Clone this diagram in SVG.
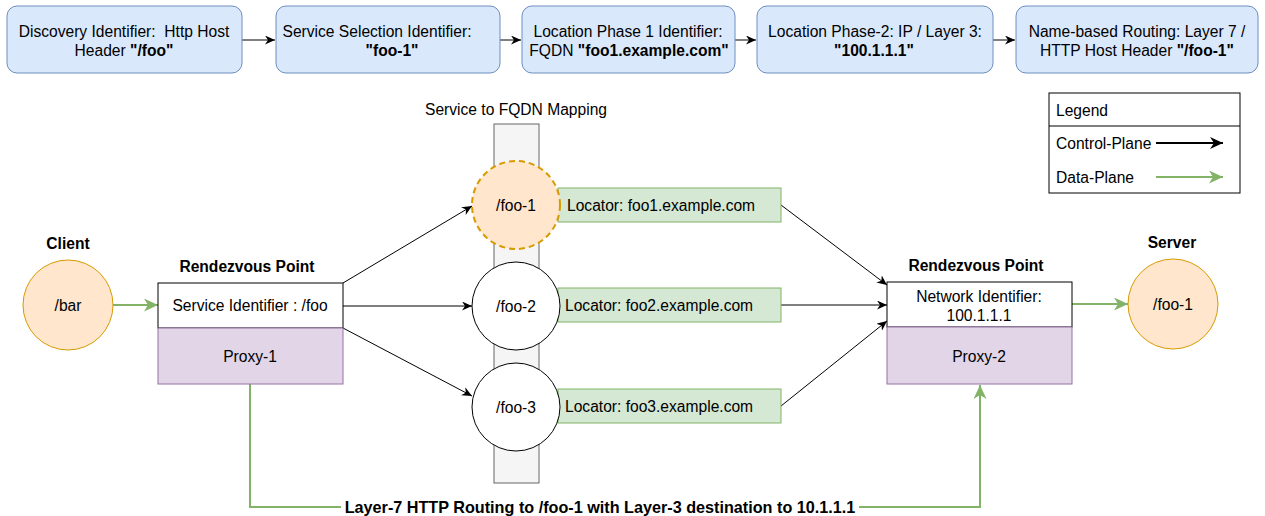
<svg xmlns="http://www.w3.org/2000/svg" width="1265" height="516" viewBox="0 0 1265 516">
<style>
text{font-family:"Liberation Sans",Arial,Helvetica,sans-serif;font-size:15.6px;fill:#000;white-space:pre}
.b{font-weight:bold}
.top{fill:#dae8fc;stroke:#6c8ebf;stroke-width:1}
.loc{fill:#d5e8d4;stroke:#82b366;stroke-width:1}
.org{fill:#ffe6cc;stroke:#d79b00;stroke-width:1}
.prx{fill:#e1d5e7;stroke:#9673a6;stroke-width:1}
.wht{fill:#fff;stroke:#000;stroke-width:1}
.ctl{fill:none;stroke:#000;stroke-width:1}
.dat{fill:none;stroke:#82b366;stroke-width:2}
</style>
<defs>
<marker id="ab" markerUnits="userSpaceOnUse" markerWidth="11" markerHeight="9" refX="10" refY="4.5" orient="auto">
<path d="M0,0 L10,4.5 L0,9 L3,4.5 Z" fill="#000"/>
</marker>
<marker id="ab2" markerUnits="userSpaceOnUse" markerWidth="14" markerHeight="12" refX="13" refY="6" orient="auto">
<path d="M0,0 L13,6 L0,12 L4,6 Z" fill="#000"/>
</marker>
<marker id="ag" markerUnits="userSpaceOnUse" markerWidth="15" markerHeight="13" refX="14" refY="6.5" orient="auto">
<path d="M0,0 L14,6.5 L0,13 L4,6.5 Z" fill="#82b366"/>
</marker>
</defs>

<g id="connectors">
<line class="ctl" x1="242" y1="40" x2="275" y2="40" marker-end="url(#ab)"/>
<line class="ctl" x1="500" y1="40" x2="521" y2="40" marker-end="url(#ab)"/>
<line class="ctl" x1="735" y1="40" x2="756" y2="40" marker-end="url(#ab)"/>
<line class="ctl" x1="993" y1="40" x2="1015" y2="40" marker-end="url(#ab)"/>
<line class="ctl" x1="343" y1="283" x2="472" y2="206" marker-end="url(#ab)"/>
<line class="ctl" x1="343" y1="306" x2="472" y2="306" marker-end="url(#ab)"/>
<line class="ctl" x1="343" y1="328" x2="472" y2="396" marker-end="url(#ab)"/>
<line class="ctl" x1="781" y1="205" x2="887" y2="285" marker-end="url(#ab)"/>
<line class="ctl" x1="781" y1="305" x2="887" y2="305" marker-end="url(#ab)"/>
<line class="ctl" x1="781" y1="406" x2="887" y2="321" marker-end="url(#ab)"/>
<line class="dat" x1="113" y1="305" x2="158" y2="305" marker-end="url(#ag)"/>
<line class="dat" x1="1072" y1="304" x2="1128" y2="304" marker-end="url(#ag)"/>
<polyline class="dat" points="250,384 250,507 980,507 980,385" marker-end="url(#ag)"/>
<rect x="341" y="497" width="518" height="19" fill="#fff"/>
<text class="b" x="600" y="513" text-anchor="middle" style="font-size:16.2px">Layer-7 HTTP Routing to /foo-1 with Layer-3 destination to 10.1.1.1</text>
</g>

<g id="box1">
<rect class="top" x="7" y="6" width="235" height="67" rx="10"/>
<text x="124" y="37" text-anchor="middle">Discovery Identifier:  Http Host</text>
<text x="124" y="56" text-anchor="middle">Header <tspan class="b">"/foo"</tspan></text>
</g>
<g id="box2">
<rect class="top" x="276" y="6" width="224" height="67" rx="10"/>
<text x="377" y="37" text-anchor="middle">Service Selection Identifier:</text>
<text x="392" y="56" text-anchor="middle" class="b">"foo-1"</text>
</g>
<g id="box3">
<rect class="top" x="522" y="6" width="213" height="67" rx="10"/>
<text x="628" y="37" text-anchor="middle">Location Phase 1 Identifier:</text>
<text x="629" y="56" text-anchor="middle">FQDN <tspan class="b">"foo1.example.com"</tspan></text>
</g>
<g id="box4">
<rect class="top" x="757" y="6" width="236" height="67" rx="10"/>
<text x="875" y="37" text-anchor="middle">Location Phase-2: IP / Layer 3:</text>
<text x="874" y="56" text-anchor="middle" class="b">"100.1.1.1"</text>
</g>
<g id="box5">
<rect class="top" x="1016" y="6" width="242" height="67" rx="10"/>
<text x="1137" y="37" text-anchor="middle">Name-based Routing: Layer 7 /</text>
<text x="1137" y="56" text-anchor="middle">HTTP Host Header <tspan class="b">"/foo-1"</tspan></text>
</g>

<g id="legend">
<rect x="1049" y="93" width="191" height="100" fill="#fff" stroke="#000"/>
<line x1="1049" y1="126" x2="1240" y2="126" stroke="#000"/>
<text x="1056" y="116">Legend</text>
<text x="1056" y="149">Control-Plane</text>
<line x1="1156" y1="143" x2="1223" y2="143" stroke="#000" stroke-width="2" marker-end="url(#ab2)"/>
<text x="1056" y="183">Data-Plane</text>
<line x1="1156" y1="177" x2="1223" y2="177" stroke="#82b366" stroke-width="2" marker-end="url(#ag)"/>
</g>

<g id="mapping">
<text x="516" y="115" text-anchor="middle">Service to FQDN Mapping</text>
<rect x="494" y="124" width="45" height="359" fill="#f5f5f5" stroke="#666666"/>
</g>

<g id="locator1">
<rect class="loc" x="558" y="188" width="223" height="34"/>
<text x="567" y="211">Locator: foo1.example.com</text>
</g>
<g id="locator2">
<rect class="loc" x="558" y="288" width="223" height="34"/>
<text x="565" y="311">Locator: foo2.example.com</text>
</g>
<g id="locator3">
<rect class="loc" x="558" y="389" width="223" height="34"/>
<text x="565" y="412">Locator: foo3.example.com</text>
</g>

<g id="foo1">
<circle cx="516" cy="205" r="44" fill="#ffe6cc" stroke="#d79b00" stroke-width="2" stroke-dasharray="6 4"/>
<text x="516" y="211" text-anchor="middle">/foo-1</text>
</g>
<g id="foo2">
<circle class="wht" cx="516" cy="306" r="44"/>
<text x="516" y="312" text-anchor="middle">/foo-2</text>
</g>
<g id="foo3">
<circle class="wht" cx="516" cy="407" r="44"/>
<text x="516" y="413" text-anchor="middle">/foo-3</text>
</g>

<g id="client">
<text class="b" x="68" y="249" text-anchor="middle">Client</text>
<circle class="org" cx="68" cy="305" r="45"/>
<text x="68" y="311" text-anchor="middle">/bar</text>
</g>

<g id="rendezvous1">
<text class="b" x="247" y="272" text-anchor="middle">Rendezvous Point</text>
<rect class="wht" x="158" y="283" width="185" height="45"/>
<text x="250" y="311" text-anchor="middle">Service Identifier : /foo</text>
</g>
<g id="proxy1">
<rect class="prx" x="158" y="328" width="185" height="56"/>
<text x="250" y="362" text-anchor="middle">Proxy-1</text>
</g>

<g id="rendezvous2">
<text class="b" x="976" y="271" text-anchor="middle">Rendezvous Point</text>
<rect class="wht" x="887" y="282" width="185" height="45"/>
<text x="979" y="302" text-anchor="middle">Network Identifier:</text>
<text x="979" y="321" text-anchor="middle">100.1.1.1</text>
</g>
<g id="proxy2">
<rect class="prx" x="887" y="327" width="185" height="57"/>
<text x="979" y="362" text-anchor="middle">Proxy-2</text>
</g>

<g id="server">
<text class="b" x="1172" y="248" text-anchor="middle">Server</text>
<circle class="org" cx="1173" cy="304" r="45"/>
<text x="1173" y="310" text-anchor="middle">/foo-1</text>
</g>
</svg>
